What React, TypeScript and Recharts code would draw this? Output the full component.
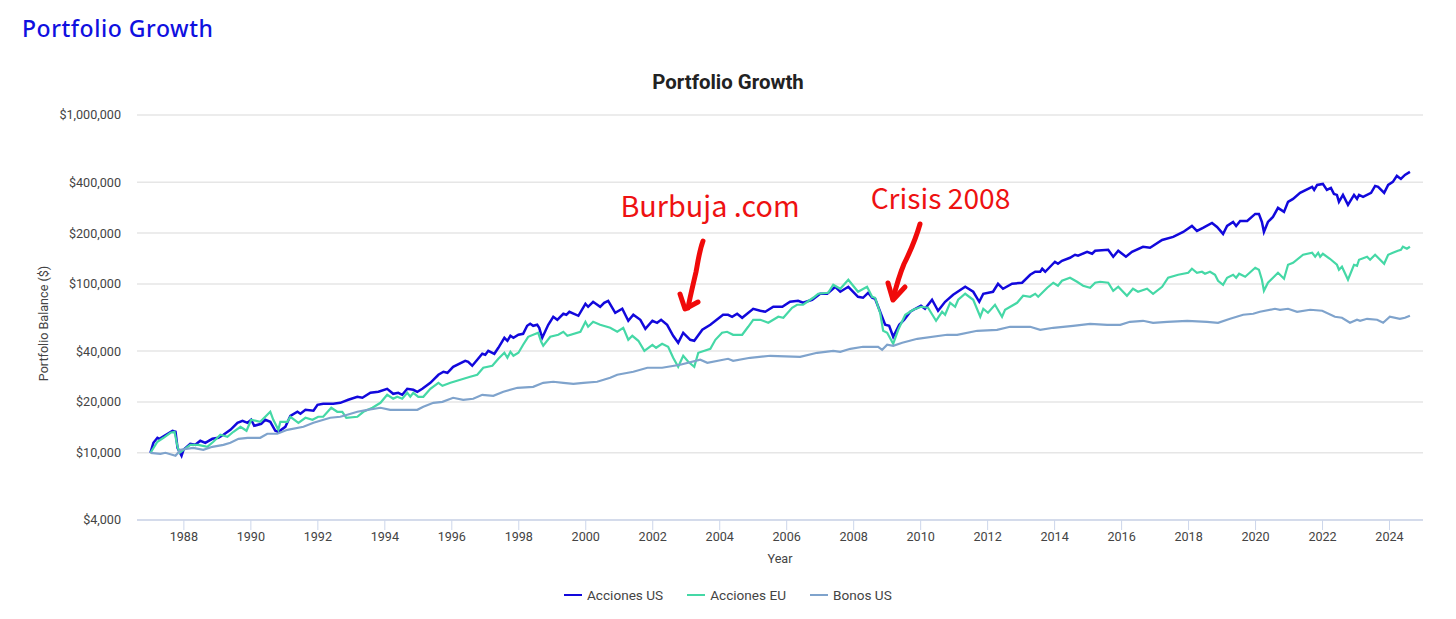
import { CartesianGrid, Legend, Line, LineChart, XAxis, YAxis } from 'recharts'

const usYears = [
  1987, 1987.09, 1987.21, 1987.27, 1987.66, 1987.75, 1987.81, 1987.93, 1987.99, 1988.19, 1988.34, 1988.49, 1988.64, 1988.85,
  1989.03, 1989.18, 1989.39, 1989.6, 1989.75, 1989.9, 1990.01, 1990.1, 1990.31, 1990.43, 1990.58, 1990.73, 1990.82, 1991.03,
  1991.18, 1991.39, 1991.48, 1991.63, 1991.87, 1991.99, 1992.16, 1992.46, 1992.67, 1992.91, 1993.18, 1993.33, 1993.57, 1993.81,
  1994.07, 1994.25, 1994.4, 1994.52, 1994.67, 1994.85, 1994.97, 1995.12, 1995.36, 1995.6, 1995.75, 1995.87, 1996.04, 1996.4,
  1996.49, 1996.61, 1996.76, 1996.91, 1997.0, 1997.09, 1997.27, 1997.39, 1997.57, 1997.66, 1997.75, 1997.84, 1997.99, 1998.13,
  1998.25, 1998.34, 1998.43, 1998.55, 1998.61, 1998.7, 1998.88, 1999.03, 1999.15, 1999.33, 1999.42, 1999.51, 1999.78, 1999.99,
  2000.07, 2000.22, 2000.43, 2000.55, 2000.67, 2000.88, 2001.09, 2001.27, 2001.42, 2001.63, 2001.78, 2001.99, 2002.13, 2002.25,
  2002.43, 2002.61, 2002.76, 2002.91, 2003.12, 2003.24, 2003.48, 2003.72, 2004.1, 2004.25, 2004.37, 2004.52, 2004.67, 2005.0,
  2005.21, 2005.36, 2005.6, 2005.87, 2006.1, 2006.34, 2006.49, 2006.76, 2007.0, 2007.21, 2007.45, 2007.6, 2007.84, 2008.13,
  2008.28, 2008.43, 2008.55, 2008.64, 2008.79, 2008.94, 2009.06, 2009.18, 2009.36, 2009.51, 2009.69, 2009.84, 2010.01, 2010.13,
  2010.34, 2010.52, 2010.73, 2010.97, 2011.33, 2011.57, 2011.75, 2011.87, 2012.16, 2012.31, 2012.46, 2012.73, 2013.03, 2013.27,
  2013.42, 2013.57, 2013.63, 2013.72, 2014.01, 2014.1, 2014.22, 2014.46, 2014.61, 2014.7, 2014.97, 2015.12, 2015.21, 2015.6,
  2015.75, 2015.9, 2016.13, 2016.31, 2016.64, 2016.85, 2017.21, 2017.54, 2017.84, 2018.1, 2018.25, 2018.43, 2018.7, 2018.85,
  2019.03, 2019.15, 2019.33, 2019.42, 2019.54, 2019.75, 2019.99, 2020.1, 2020.19, 2020.25, 2020.37, 2020.52, 2020.67, 2020.85,
  2020.97, 2021.12, 2021.33, 2021.69, 2021.75, 2021.84, 2022.01, 2022.13, 2022.25, 2022.34, 2022.43, 2022.49, 2022.61, 2022.76,
  2022.94, 2023.03, 2023.09, 2023.21, 2023.45, 2023.57, 2023.66, 2023.84, 2023.96, 2024.1, 2024.22, 2024.34, 2024.46, 2024.61,
]
const usValues = [
  10000, 11460, 12270, 12100, 13500, 13320, 10700, 9600, 10420, 11300, 11150, 11780, 11460, 12100,
  12270, 12780, 13680, 15050, 15470, 15050, 15680, 14450, 14850, 15680, 15260, 13500, 13320, 14250,
  16560, 17490, 17020, 17970, 17730, 19240, 19500, 19500, 19770, 20600, 21460, 21170, 22660, 22970,
  23930, 22350, 22660, 22050, 23930, 23610, 22970, 23930, 25970, 28970, 30180, 29770, 32310, 35060,
  34590, 32750, 35540, 38560, 38040, 40170, 38560, 41850, 47960, 46040, 49290, 47960, 49970, 50650,
  56490, 58050, 56490, 57270, 54970, 47960, 57270, 63870, 61310, 66540, 65640, 68380, 64750, 76260,
  73210, 78370, 73210, 77310, 79450, 67450, 71240, 60480, 65640, 61310, 54230, 60480, 58850, 61310,
  57270, 49290, 44800, 51350, 46670, 46040, 53490, 57270, 65640, 65640, 63870, 66540, 63000, 71240,
  69320, 68380, 73210, 73210, 78370, 79450, 77310, 80540, 87410, 87410, 96170, 89830, 96170, 83900,
  82770, 88610, 82770, 81650, 68380, 57270, 56490, 48620, 57270, 61310, 68380, 71240, 74210, 71240,
  80540, 69320, 78370, 86220, 96170, 89830, 78370, 87410, 89830, 100190, 93580, 100190, 101560, 113270,
  118000, 118000, 122930, 118000, 135240, 131600, 137100, 142820, 148790, 146770, 155000, 150830, 157130, 159290,
  144780, 157130, 144780, 155000, 165950, 163700, 182100, 189700, 203100, 220400, 205900, 214500, 229600, 217400,
  197600, 220400, 232700, 220400, 235900, 235900, 259600, 259600, 232700, 203100, 232700, 249200, 281800, 266800,
  305900, 318700, 345800, 375100, 360200, 385500, 390800, 360200, 370000, 341000, 336500, 305900, 336500, 293600,
  336500, 318700, 336500, 327400, 345800, 380200, 375100, 345800, 385500, 401600, 435900, 418400, 441900, 460500,
]

const euYears = [
  1987, 1987.21, 1987.39, 1987.6, 1987.72, 1987.81, 1987.87, 1987.99, 1988.19, 1988.43, 1988.7, 1988.88, 1989.09, 1989.3,
  1989.48, 1989.69, 1989.87, 1990.01, 1990.28, 1990.58, 1990.67, 1990.82, 1990.88, 1991.09, 1991.18, 1991.42, 1991.63, 1991.84,
  1992.01, 1992.16, 1992.4, 1992.58, 1992.73, 1992.85, 1993.18, 1993.36, 1993.63, 1993.87, 1994.07, 1994.25, 1994.37, 1994.52,
  1994.67, 1994.76, 1994.85, 1995.0, 1995.15, 1995.36, 1995.6, 1995.72, 1995.96, 1996.55, 1996.76, 1996.94, 1997.21, 1997.39,
  1997.57, 1997.66, 1997.75, 1997.84, 1997.99, 1998.13, 1998.28, 1998.58, 1998.67, 1998.73, 1998.94, 1999.18, 1999.33, 1999.45,
  1999.84, 1999.99, 2000.07, 2000.22, 2000.43, 2000.73, 2000.94, 2001.12, 2001.27, 2001.39, 2001.57, 2001.75, 2001.99, 2002.1,
  2002.28, 2002.46, 2002.61, 2002.76, 2002.91, 2003.06, 2003.24, 2003.36, 2003.72, 2003.87, 2004.07, 2004.22, 2004.4, 2004.67,
  2004.85, 2005.0, 2005.21, 2005.45, 2005.75, 2005.9, 2006.16, 2006.31, 2006.49, 2006.79, 2006.94, 2007.24, 2007.39, 2007.6,
  2007.84, 2008.13, 2008.4, 2008.55, 2008.64, 2008.79, 2008.88, 2009.0, 2009.18, 2009.33, 2009.54, 2009.78, 2010.01, 2010.22,
  2010.46, 2010.64, 2010.73, 2010.88, 2011.03, 2011.12, 2011.33, 2011.57, 2011.78, 2011.87, 2012.01, 2012.22, 2012.43, 2012.52,
  2012.88, 2013.06, 2013.27, 2013.42, 2013.51, 2013.78, 2013.96, 2014.1, 2014.22, 2014.46, 2014.67, 2014.85, 2015.06, 2015.21,
  2015.36, 2015.6, 2015.75, 2015.9, 2016.16, 2016.34, 2016.49, 2016.76, 2016.94, 2017.21, 2017.39, 2017.69, 2017.99, 2018.1,
  2018.25, 2018.4, 2018.49, 2018.64, 2018.79, 2018.88, 2019.03, 2019.15, 2019.33, 2019.42, 2019.51, 2019.69, 2019.99, 2020.1,
  2020.19, 2020.25, 2020.37, 2020.67, 2020.85, 2020.97, 2021.12, 2021.42, 2021.69, 2021.78, 2021.87, 2021.93, 2022.01, 2022.22,
  2022.43, 2022.49, 2022.58, 2022.76, 2022.94, 2023.03, 2023.09, 2023.33, 2023.42, 2023.57, 2023.84, 2023.96, 2024.1, 2024.25,
  2024.34, 2024.4, 2024.52, 2024.61,
]
const euValues = [
  10000, 11620, 12270, 13140, 13320, 10850, 10000, 10420, 11150, 11150, 10850, 11620, 12780, 12440,
  13320, 14250, 13500, 15680, 15260, 17490, 15680, 13680, 15260, 15260, 16340, 15050, 16120, 15680,
  16340, 16340, 18470, 17490, 17490, 16120, 16340, 17490, 18470, 19770, 22050, 20880, 21460, 20880,
  22660, 21460, 22660, 21460, 21460, 23930, 25970, 24930, 25970, 28190, 28970, 31870, 32750, 36030,
  39090, 36520, 39630, 37530, 39090, 43600, 48620, 51350, 45420, 43010, 48620, 49970, 52050, 49290,
  52050, 59660, 55730, 59660, 57270, 54970, 52050, 54970, 46670, 49290, 46040, 40170, 43600, 41850,
  44200, 42430, 36520, 32310, 37530, 34590, 32310, 39090, 41280, 46670, 51350, 52050, 49970, 49970,
  55730, 61310, 61310, 58850, 63870, 63000, 72220, 75230, 75230, 82770, 87410, 88610, 98830, 93580,
  105800, 89830, 96170, 83900, 82770, 67450, 52770, 51350, 44200, 53490, 65640, 70270, 73210, 72220,
  60480, 68380, 65640, 77310, 73210, 80540, 87410, 80540, 63870, 71240, 67450, 75230, 63870, 70270,
  77310, 85050, 83900, 87410, 83900, 94860, 101560, 97490, 104370, 108730, 102960, 97490, 94860, 101560,
  102960, 101560, 91060, 96170, 85050, 93580, 89830, 93580, 87410, 96170, 108730, 113270, 116400, 122930,
  116400, 118000, 114830, 118000, 113270, 104370, 98830, 108730, 113270, 108730, 114830, 110200, 124620, 121270,
  105800, 91060, 101560, 116400, 107250, 129820, 133410, 148790, 152900, 144780, 152900, 144780, 150830, 140890,
  129820, 121270, 126330, 105800, 129820, 128070, 138980, 144780, 138980, 148790, 131600, 148790, 152900, 157130,
  159290, 165950, 161480, 165950,
]

const bondYears = [
  1987, 1987.3, 1987.45, 1987.75, 1987.9, 1988.28, 1988.58, 1988.85, 1989.18, 1989.39, 1989.63, 1989.9, 1990.28, 1990.49,
  1990.79, 1991.09, 1991.57, 1991.87, 1992.37, 1992.67, 1992.88, 1993.18, 1993.48, 1993.87, 1994.16, 1994.97, 1995.15, 1995.45,
  1995.72, 1996.04, 1996.34, 1996.64, 1996.91, 1997.24, 1997.54, 1997.96, 1998.43, 1998.73, 1999.03, 1999.33, 1999.63, 1999.93,
  2000.34, 2000.73, 2000.94, 2001.42, 2001.84, 2002.28, 2002.82, 2003.42, 2003.63, 2004.25, 2004.4, 2004.91, 2005.51, 2006.4,
  2006.91, 2007.39, 2007.6, 2007.9, 2008.28, 2008.73, 2008.85, 2009.0, 2009.18, 2009.45, 2009.9, 2010.79, 2011.09, 2011.69,
  2012.28, 2012.67, 2013.27, 2013.57, 2013.96, 2014.55, 2015.06, 2015.57, 2015.96, 2016.25, 2016.64, 2016.94, 2017.36, 2017.96,
  2018.55, 2018.88, 2019.24, 2019.63, 2019.93, 2020.13, 2020.58, 2020.73, 2020.97, 2021.24, 2021.63, 2021.99, 2022.37, 2022.58,
  2022.82, 2023.03, 2023.12, 2023.33, 2023.63, 2023.81, 2024.01, 2024.31, 2024.46, 2024.61,
]
const bondValues = [
  10000, 9860, 10000, 9600, 10420, 10700, 10420, 10850, 11150, 11460, 12100, 12270, 12270, 12960,
  12960, 13680, 14250, 15050, 16120, 16340, 16790, 17490, 17970, 18470, 17970, 17970, 18720, 19770,
  20040, 21170, 20600, 20880, 22050, 21750, 22970, 24260, 24590, 25970, 26330, 25970, 25620, 25970,
  26330, 27810, 28970, 30180, 31870, 31870, 33200, 35540, 34120, 36030, 35060, 36520, 37530, 37020,
  39090, 40170, 39630, 41280, 42430, 42430, 40720, 43600, 43010, 44800, 47310, 49970, 49970, 52770,
  53490, 55730, 55730, 53490, 54970, 56490, 58050, 57270, 57270, 59660, 60480, 58850, 59660, 60480,
  59660, 58850, 62150, 65640, 66540, 68380, 71240, 70270, 71240, 68380, 70270, 69320, 63870, 63000,
  58850, 61310, 60480, 62150, 61310, 58850, 63870, 62150, 63000, 64750,
]

const yearTicks = [1988, 1990, 1992, 1994, 1996, 1998, 2000, 2002, 2004, 2006, 2008, 2010, 2012, 2014, 2016, 2018, 2020, 2022, 2024]
const balanceTicks = [4000, 10000, 20000, 40000, 100000, 200000, 400000, 1000000]

const zip = (years: number[], values: number[]) =>
  years.map((year, i) => ({ year, value: values[i] }))

const labelStyle = { fontFamily: 'Roboto, sans-serif', fontSize: 12.6, fill: '#444444' }

function ChartLegend({ payload }: { payload?: { value: string; color: string }[] }) {
  return (
    <div style={{ display: 'flex', paddingLeft: 564, paddingTop: 10, height: 34, fontFamily: 'Roboto, sans-serif', fontSize: 13.6, lineHeight: '20px', color: '#444444' }}>
      {(payload ?? []).map((item) => (
        <div key={item.value} style={{ display: 'flex', alignItems: 'center', height: 20, marginRight: 24 }}>
          <span style={{ display: 'inline-block', width: 18, height: 2.5, background: item.color, marginRight: 5 }} />
          <span>{item.value}</span>
        </div>
      ))}
    </div>
  )
}

export default function App() {
  return (
    <div style={{ position: 'absolute', left: 0, top: 0, width: 1456, height: 619, background: '#fff', overflow: 'hidden' }}>
      <LineChart
        width={1456}
        height={619}
        margin={{ top: 115, right: 33, left: 0, bottom: 0 }}
        style={{ fontFamily: 'Roboto, sans-serif' }}
      >
        <CartesianGrid vertical={false} stroke="#e6e6e6" strokeWidth={1.5} />
        <XAxis
          type="number"
          dataKey="year"
          domain={[1986.6, 2025]}
          allowDataOverflow
          ticks={yearTicks}
          interval={0}
          tick={labelStyle}
          tickSize={10}
          tickMargin={2}
          tickLine={{ stroke: '#ccd6eb' }}
          axisLine={{ stroke: '#ccd6eb', strokeWidth: 1.5 }}
          height={55}
          label={{ value: 'Year', position: 'insideBottom', offset: 12, style: labelStyle }}
        />
        <YAxis
          type="number"
          scale="log"
          domain={[4000, 1000000]}
          allowDataOverflow
          ticks={balanceTicks}
          interval={0}
          width={137}
          tick={labelStyle}
          tickLine={false}
          axisLine={false}
          tickMargin={10}
          tickFormatter={(v) => `$${Number(v).toLocaleString('en-US')}`}
        />
        <Legend
          verticalAlign="bottom"
          itemSorter={null}
          height={44}
          wrapperStyle={{ left: 0, width: 1456 }}
          content={(props: any) => <ChartLegend payload={props.payload} />}
        />
        <Line name="Acciones US" data={zip(usYears, usValues)} dataKey="value" stroke="#1208dc" strokeWidth={2.5} dot={false} isAnimationActive={false} />
        <Line name="Acciones EU" data={zip(euYears, euValues)} dataKey="value" stroke="#45d8a6" strokeWidth={2.2} dot={false} isAnimationActive={false} />
        <Line name="Bonos US" data={zip(bondYears, bondValues)} dataKey="value" stroke="#7fa3cc" strokeWidth={2.2} dot={false} isAnimationActive={false} />
      </LineChart>
      <svg width={1456} height={619} style={{ position: 'absolute', left: 0, top: 0, pointerEvents: 'none' }}>
        <text x={22} y={37} fontFamily="'Noto Sans', sans-serif" fontWeight={500} fontSize={23} letterSpacing={0.55} fill="#1010e0">Portfolio Growth</text>
        <text x={728} y={89} textAnchor="middle" fontFamily="Roboto, sans-serif" fontWeight={700} fontSize={20.4} fill="#222222">Portfolio Growth</text>
        <text transform="translate(48 323.5) rotate(-90)" textAnchor="middle" fontFamily="Roboto, sans-serif" fontSize={12.6} fill="#444444">Portfolio Balance ($)</text>
        <text x={710} y={217} textAnchor="middle" fontFamily="'Noto Sans CJK JP', sans-serif" fontSize={28.8} fill="#ee1111">Burbuja .com</text>
        <text x={940.5} y={209} textAnchor="middle" fontFamily="'Noto Sans CJK JP', sans-serif" fontSize={28.2} fill="#ee1111">Crisis 2008</text>
        <g fill="none" stroke="#f00a0a" strokeWidth={5} strokeLinecap="round" strokeLinejoin="round">
          <path d="M703 241 C699 252 698 262 696 272 C693 285 690 297 688 308" />
          <path d="M680 294 L685 309 L698 302" />
          <path d="M920 224 C916 238 910 252 904 264 C899 276 896 287 893 299" />
          <path d="M888 283 L893 300 L905 287" />
        </g>
      </svg>
    </div>
  )
}
